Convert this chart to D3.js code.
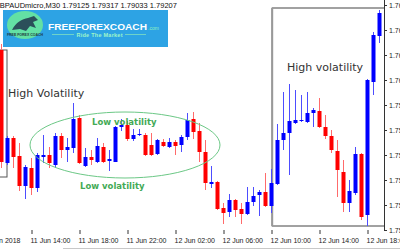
<!DOCTYPE html>
<html>
<head>
<meta charset="utf-8">
<script src="https://cdn.jsdelivr.net/npm/d3@7"></script>
<style>
  body { margin: 0; background: #fff; }
  svg { display: block; }
</style>
</head>
<body>
<div id="chart"></div>
<script>
// GBPAUDmicro M30 candles (bar 0 = 11 Jun 11:30)
const opens = [1.76120, 1.75668, 1.75768, 1.75696, 1.75576, 1.75648, 1.75568, 1.75692, 1.75700, 1.75660,
  1.75776, 1.75720, 1.75728, 1.75848, 1.75656, 1.75692, 1.75672, 1.75732, 1.75676, 1.75672,
  1.75812, 1.75820, 1.75764, 1.75780, 1.75780, 1.75740, 1.75704, 1.75752, 1.75732, 1.75752,
  1.75740, 1.75772, 1.75844, 1.75796, 1.75712, 1.75584, 1.75592, 1.75488, 1.75472, 1.75520,
  1.75484, 1.75464, 1.75512, 1.75540, 1.75552, 1.75496, 1.75584, 1.75760, 1.75788, 1.75828,
  1.75836, 1.75832, 1.75868, 1.75876, 1.75812, 1.75776, 1.75716, 1.75632, 1.75508, 1.75548,
  1.75704, 1.75460, 1.75992, 1.76176];
const highs = [1.76144, 1.75776, 1.75776, 1.75748, 1.75660, 1.75688, 1.75708, 1.75780, 1.75732, 1.75788,
  1.75788, 1.75768, 1.75908, 1.75860, 1.75728, 1.75720, 1.75768, 1.75748, 1.75720, 1.75816,
  1.75844, 1.75836, 1.75804, 1.75804, 1.75788, 1.75788, 1.75764, 1.75764, 1.75768, 1.75760,
  1.75780, 1.75868, 1.75872, 1.75828, 1.75760, 1.75656, 1.75596, 1.75508, 1.75544, 1.75524,
  1.75508, 1.75572, 1.75572, 1.75560, 1.75628, 1.75644, 1.75824, 1.75952, 1.75984, 1.75960,
  1.75940, 1.75952, 1.75888, 1.75928, 1.75860, 1.75800, 1.75760, 1.75680, 1.75600, 1.75732,
  1.75708, 1.76004, 1.76192, 1.76280];
const lows = [1.75648, 1.75660, 1.75648, 1.75556, 1.75524, 1.75540, 1.75552, 1.75668, 1.75648, 1.75648,
  1.75688, 1.75672, 1.75708, 1.75664, 1.75652, 1.75660, 1.75668, 1.75668, 1.75636, 1.75672,
  1.75796, 1.75756, 1.75756, 1.75776, 1.75696, 1.75696, 1.75700, 1.75732, 1.75728, 1.75700,
  1.75712, 1.75760, 1.75764, 1.75672, 1.75560, 1.75568, 1.75480, 1.75424, 1.75452, 1.75452,
  1.75424, 1.75460, 1.75496, 1.75456, 1.75492, 1.75468, 1.75580, 1.75720, 1.75620, 1.75824,
  1.75832, 1.75828, 1.75812, 1.75808, 1.75764, 1.75708, 1.75532, 1.75472, 1.75472, 1.75540,
  1.75440, 1.75416, 1.75940, 1.76148];
const closes = [1.75672, 1.75768, 1.75692, 1.75576, 1.75652, 1.75568, 1.75700, 1.75700, 1.75668, 1.75776,
  1.75720, 1.75732, 1.75844, 1.75668, 1.75692, 1.75680, 1.75736, 1.75672, 1.75684, 1.75812,
  1.75820, 1.75764, 1.75780, 1.75784, 1.75700, 1.75700, 1.75760, 1.75736, 1.75752, 1.75736,
  1.75772, 1.75840, 1.75792, 1.75712, 1.75588, 1.75592, 1.75484, 1.75468, 1.75520, 1.75480,
  1.75464, 1.75512, 1.75536, 1.75552, 1.75496, 1.75588, 1.75760, 1.75788, 1.75836, 1.75840,
  1.75840, 1.75868, 1.75880, 1.75812, 1.75776, 1.75720, 1.75640, 1.75508, 1.75556, 1.75704,
  1.75452, 1.76000, 1.76180, 1.76268];

const priceTicks = [1.7540, 1.7550, 1.7560, 1.7570, 1.7580, 1.7590, 1.7600, 1.7610, 1.7620, 1.7630];
const timeTickBars = [-3, 5, 13, 21, 29, 37, 45, 53, 61];
const timeTickLabels = ["11 Jun 2018", "11 Jun 14:00", "11 Jun 18:00", "11 Jun 22:00", "12 Jun 02:00",
  "12 Jun 06:00", "12 Jun 10:00", "12 Jun 14:00", "12 Jun 18:00"];
const header = "GBPAUDmicro,M30  1.79125 1.79317 1.79033 1.79207";

const W = 400, H = 250;
const plotRight = 384, plotBottom = 230;

const svg = d3.select("#chart").append("svg")
  .attr("width", W)
  .attr("height", H)
  .style("font-family", "'Liberation Sans', Arial, sans-serif");

const x = d3.scaleLinear().domain([0, 63]).range([1, 379]);
const y = d3.scaleLinear().domain([1.7540, 1.7630]).range([plotBottom, 5]);

svg.append("clipPath").attr("id", "plot")
  .append("rect").attr("x", 0).attr("y", 0).attr("width", plotRight).attr("height", plotBottom);

const bars = d3.range(opens.length).map(i => ({
  i: i, o: opens[i], h: highs[i], l: lows[i], c: closes[i]
}));

// annotation boxes (drawn under the candles)
const notes = svg.append("g").attr("clip-path", "url(#plot)");
// left "high volatility" box, mostly off screen
notes.append("rect")
  .attr("x", x(-4)).attr("y", y(1.7612))
  .attr("width", x(1) - x(-4)).attr("height", y(1.75612) - y(1.7612))
  .attr("fill", "none").attr("stroke", "#555").attr("stroke-width", 1);
// right box
notes.append("rect")
  .attr("x", x(45.2)).attr("y", y(1.76288))
  .attr("width", plotRight + 5 - x(45.2)).attr("height", y(1.75416) - y(1.76288))
  .attr("fill", "none").attr("stroke", "#444").attr("stroke-width", 1);
notes.append("line")
  .attr("x1", x(45.2)).attr("x2", x(45.2))
  .attr("y1", y(1.76288)).attr("y2", y(1.75416))
  .attr("stroke", "#999").attr("stroke-width", 2);

// candles
const candles = svg.append("g").attr("clip-path", "url(#plot)")
  .selectAll("g").data(bars).join("g");

candles.append("line")
  .attr("x1", d => x(d.i) + 0.5).attr("x2", d => x(d.i) + 0.5)
  .attr("y1", d => y(d.h)).attr("y2", d => y(d.l))
  .attr("stroke", d => d.c >= d.o ? "#4d4dff" : "#ff6b6b")
  .attr("stroke-width", 1);

candles.append("rect")
  .attr("x", d => x(d.i) - 1.5)
  .attr("width", 4)
  .attr("y", d => y(Math.max(d.o, d.c)))
  .attr("height", d => Math.max(1, Math.abs(y(d.o) - y(d.c))))
  .attr("fill", d => d.c >= d.o ? "#0000ff" : "#ff0000");

// ellipse round the quiet range
svg.append("ellipse")
  .attr("cx", 125).attr("cy", 145).attr("rx", 95).attr("ry", 33)
  .attr("fill", "none").attr("stroke", "#6cc886").attr("stroke-width", 1);

// price axis
const yAxis = svg.append("g")
  .attr("transform", `translate(${plotRight},0)`)
  .call(d3.axisRight(y).tickValues(priceTicks).tickFormat(d3.format(".5f")).tickSize(3).tickPadding(2));
yAxis.select(".domain").attr("d", `M0.5,0V${plotBottom}`).attr("stroke", "#333");
yAxis.selectAll(".tick line").attr("stroke", "#333");
yAxis.selectAll("text").attr("font-size", 7).attr("fill", "#222")
  .attr("font-family", "'Liberation Sans', Arial, sans-serif");

// time axis
const xAxis = svg.append("g")
  .attr("transform", `translate(0,${plotBottom})`)
  .call(d3.axisBottom(x).tickValues(timeTickBars)
    .tickFormat((d, k) => timeTickLabels[k]).tickSize(4).tickPadding(2));
xAxis.select(".domain").remove();
xAxis.selectAll(".tick line").attr("stroke", "#333").attr("transform", "translate(0.5,0)");
xAxis.selectAll("text")
  .attr("text-anchor", "start").attr("dx", -1).attr("dy", "0.95em")
  .attr("font-size", 7).attr("fill", "#222")
  .attr("font-family", "'Liberation Sans', Arial, sans-serif");

svg.append("line")
  .attr("x1", 63).attr("x2", W).attr("y1", 248.5).attr("y2", 248.5)
  .attr("stroke", "#c8c8c8");

// header line
svg.append("text")
  .attr("x", -6).attr("y", 8)
  .attr("font-size", 7.5).attr("fill", "#111")
  .text(header);

// logo banner
const logo = svg.append("g");
logo.append("rect").attr("x", 3).attr("y", 10).attr("width", 165).attr("height", 37).attr("fill", "#2da3e4");
logo.append("ellipse").attr("cx", 25).attr("cy", 25).attr("rx", 18).attr("ry", 14).attr("fill", "#63e0a4");
logo.append("path")
  .attr("d", "M12,30 C16,22 22,19 28,18 L34,16 L38,20 L33,22 L36,28 L30,26 L26,31 L20,29 Z")
  .attr("fill", "#2b4f5a");
logo.append("text").attr("x", 25).attr("y", 36).attr("text-anchor", "middle")
  .attr("font-size", 3.5).attr("font-weight", "bold").attr("fill", "#1d3a40").text("FREE FOREX COACH");
logo.append("text").attr("x", 48).attr("y", 29.5)
  .attr("font-size", 9.5).attr("font-weight", "900").attr("fill", "#fff")
  .attr("textLength", 99).attr("lengthAdjust", "spacingAndGlyphs")
  .text("FREEFOREXCOACH");
logo.append("text").attr("x", 148).attr("y", 29.5)
  .attr("font-size", 5).attr("fill", "#8ff0c0").text(".com");
logo.append("line").attr("x1", 52).attr("x2", 146).attr("y1", 34.5).attr("y2", 34.5)
  .attr("stroke", "#7fe0c0").attr("stroke-width", 0.8);
logo.append("rect").attr("x", 74).attr("y", 31.5).attr("width", 51).attr("height", 6).attr("fill", "#2da3e4");
logo.append("text").attr("x", 99.5).attr("y", 36.5).attr("text-anchor", "middle")
  .attr("font-size", 5.5).attr("font-weight", "bold").attr("fill", "#9ff5c8")
  .attr("textLength", 46).text("Ride The Market");

// annotation texts
svg.append("text").attr("x", 8).attr("y", 97)
  .attr("font-family", "'DejaVu Sans', Verdana, sans-serif")
  .attr("font-size", 11).attr("fill", "#333").text("High Volatility");
svg.append("text").attr("x", 287).attr("y", 71)
  .attr("font-family", "'DejaVu Sans', Verdana, sans-serif")
  .attr("font-size", 11).attr("fill", "#333").text("High volatility");
svg.append("text").attr("x", 92).attr("y", 125)
  .attr("font-family", "'DejaVu Sans', Verdana, sans-serif")
  .attr("font-size", 8.5).attr("font-weight", "bold").attr("fill", "#43aa55").text("Low volatility");
svg.append("text").attr("x", 80).attr("y", 189)
  .attr("font-family", "'DejaVu Sans', Verdana, sans-serif")
  .attr("font-size", 8.5).attr("font-weight", "bold").attr("fill", "#43aa55").text("Low volatility");
</script>
</body>
</html>
